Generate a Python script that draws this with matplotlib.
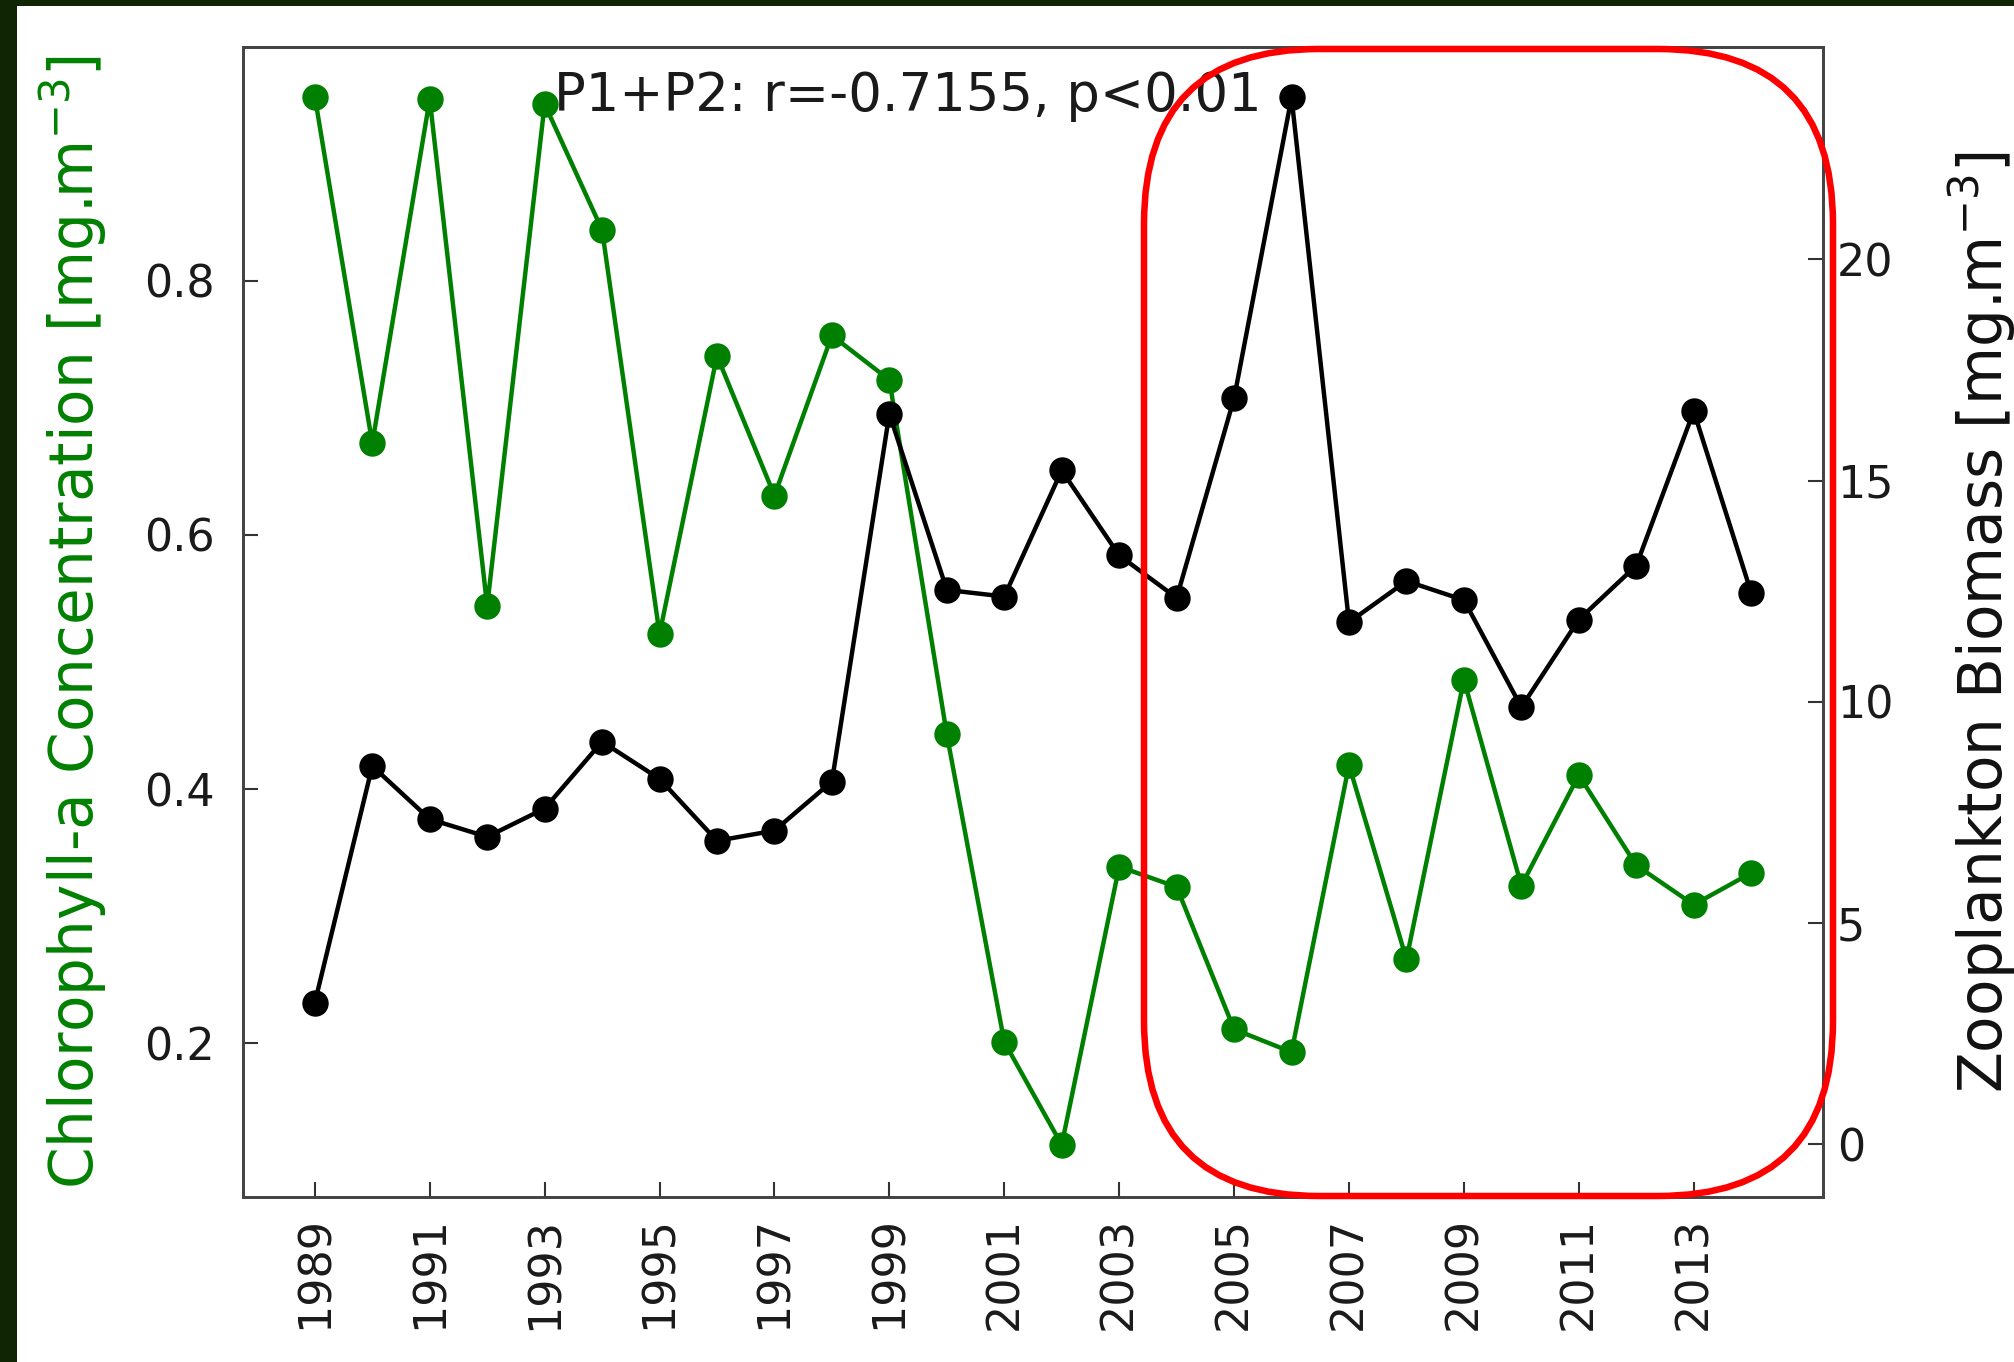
import matplotlib.pyplot as plt
from matplotlib.patches import FancyBboxPatch, Rectangle
import numpy as np

# Yearly values
years = np.arange(1989, 2015)
chl = [0.945, 0.672, 0.943, 0.544, 0.939, 0.840, 0.522, 0.741, 0.631, 0.757,
       0.722, 0.443, 0.201, 0.120, 0.339, 0.323, 0.211, 0.193, 0.419, 0.266,
       0.486, 0.324, 0.411, 0.340, 0.309, 0.334]
zoo = [3.20, 8.55, 7.35, 6.95, 7.59, 9.10, 8.26, 6.86, 7.09, 8.20,
       16.51, 12.53, 12.38, 15.23, 13.31, 12.35, 16.86, 23.66, 11.80, 12.73,
       12.30, 9.88, 11.86, 13.08, 16.57, 12.47]
xticks = np.arange(1989, 2014, 2)
chl_ticks = [0.2, 0.4, 0.6, 0.8]
zoo_ticks = [0, 5, 10, 15, 20]
note = "P1+P2: r=-0.7155, p<0.01"

W, H, DPI = 20.14, 13.62, 100
fig = plt.figure(figsize=(W, H), dpi=DPI, facecolor='#0f2503')
# white page inside the dark screenshot frame
fig.patches.append(Rectangle((17 / 2014, 0), 1, 1 - 6 / 1362, transform=fig.transFigure,
                             facecolor='white', edgecolor='none', zorder=-10))

ax = fig.add_axes([243 / 2014, 1 - 1197 / 1362, (1823 - 243) / 2014, (1197 - 47) / 1362])
ax2 = ax.twinx()

ax.plot(years, chl, '-o', color='green', lw=3.2, ms=18)
ax2.plot(years, zoo, '-o', color='black', lw=3.2, ms=18)

ax.set_xlim(1987.75, 2015.25)
ax.set_ylim(0.079, 0.984)
ax2.set_ylim(-1.19, 24.8)

ax.set_xticks(xticks)
ax.set_xticklabels([str(y) for y in xticks], rotation=90)
ax.set_yticks(chl_ticks)
ax2.set_yticks(zoo_ticks)

for a in (ax, ax2):
    a.tick_params(direction='in', length=11, width=1.5, colors='#333333',
                  labelcolor='#1a1a1a', labelsize=32)
    for s in a.spines.values():
        s.set_color('#444444')
        s.set_linewidth(2)
ax.tick_params(axis='y', pad=20)
ax.tick_params(axis='x', pad=14)
ax2.tick_params(axis='y', pad=10)

ax.set_ylabel('Chlorophyll-a Concentration [mg.m$^{-3}$]', color='green', fontsize=43)
ax2.set_ylabel('Zooplankton Biomass [mg.m$^{-3}$]', color='#111111', fontsize=43,
               rotation=90)
ax.yaxis.set_label_coords(-0.085, 0.5)
ax2.yaxis.set_label_coords(1.078, 0.5)

ax.text(0.197, 0.957, note, transform=ax.transAxes, fontsize=38, va='center',
        ha='left', color='#1a1a1a')

# red highlight box drawn over the later years
box = FancyBboxPatch((11.44, (1362 - 1196) / 100), 6.89, 11.47,
                     boxstyle='round,pad=0,rounding_size=1.75',
                     transform=fig.dpi_scale_trans, fill=False,
                     edgecolor='red', linewidth=4.7, zorder=20)
fig.patches.append(box)

fig.savefig('out.png', dpi=DPI, facecolor=fig.get_facecolor())
